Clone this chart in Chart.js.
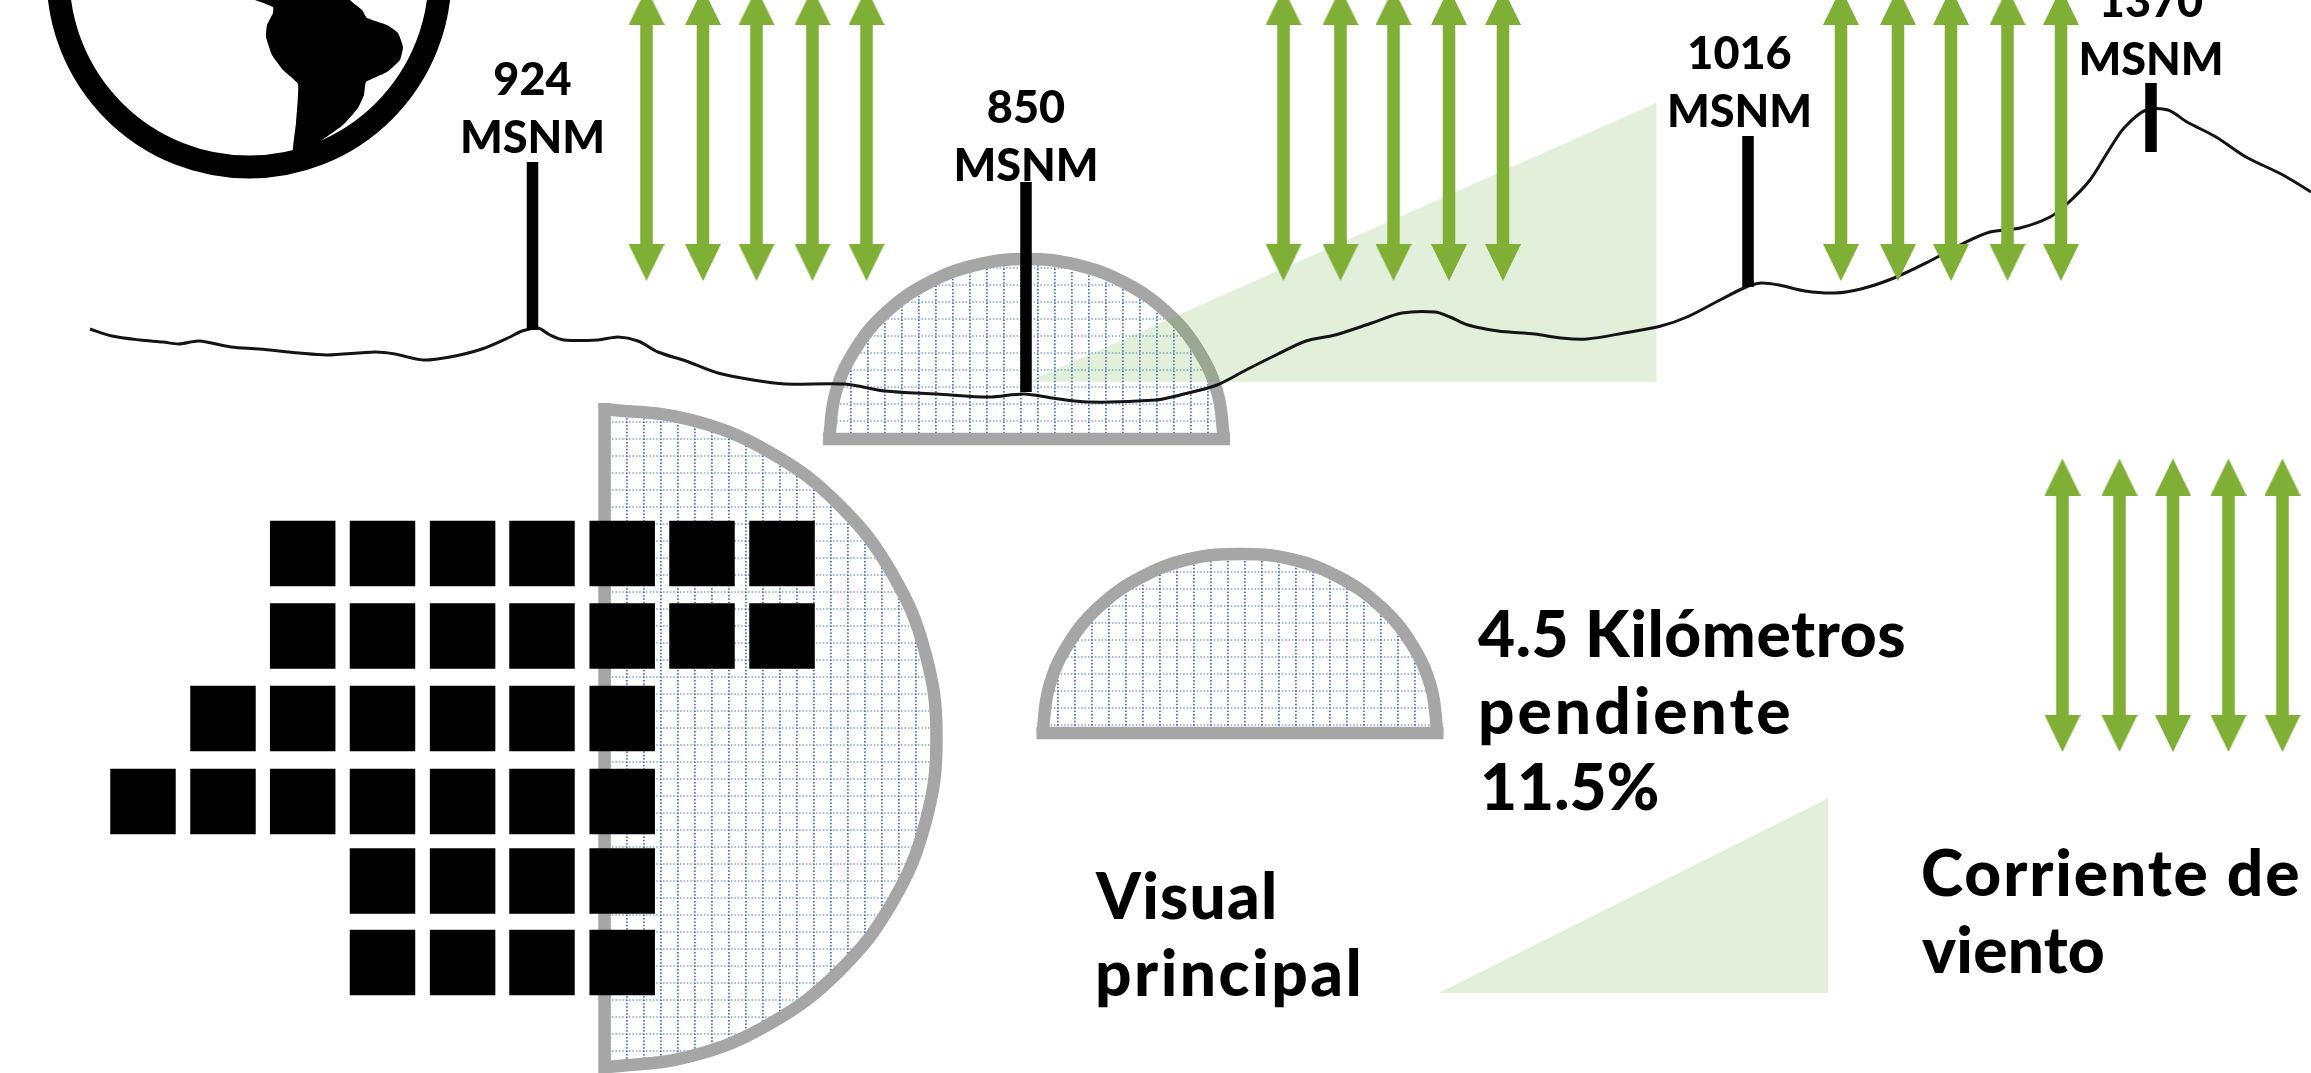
<!DOCTYPE html>
<html>
<head>
<meta charset="utf-8">
<style>
  html, body { margin: 0; padding: 0; background: #fff; }
  canvas { display: block; }
</style>
<script src="https://cdn.jsdelivr.net/npm/chart.js@4/dist/chart.umd.min.js"></script>
</head>
<body>
<canvas id="profile" width="2311" height="1073"></canvas>
<script>
// terrain profile, values (x along the route, y from the top)
let profileX = [90, 112, 140, 163, 179, 199, 231, 259, 299, 327, 375, 395, 423, 450, 482, 510, 522, 538, 550, 564, 598, 618, 638, 658, 686, 718, 753, 785, 845, 885, 937, 989, 1024, 1052, 1088, 1156, 1180, 1217, 1246, 1276, 1306, 1335, 1372, 1402, 1435, 1450, 1468, 1498, 1535, 1561, 1587, 1624, 1661, 1687, 1720, 1746, 1761, 1779, 1805, 1835, 1861, 1894, 1928, 1964, 1990, 2020, 2050, 2068, 2090, 2109, 2124, 2146, 2168, 2187, 2216, 2246, 2283, 2311];
let profileY = [329, 336, 340, 342, 344, 341, 347, 349, 353, 355, 352, 354, 360, 357, 349, 337, 331, 328, 335, 340, 340, 337, 341, 352, 361, 373, 380, 384, 384, 391, 394, 397, 394, 398, 402, 400, 395, 385, 370, 355, 341, 335, 323, 313, 312, 317, 325, 331, 334, 338, 339, 333, 326, 317, 300, 287, 283, 285, 291, 293, 289, 278, 262, 243, 232, 228, 217, 203, 180, 150, 128, 110, 110, 122, 137, 157, 175, 192];

// elevation stems
let elevationLabels = ["924", "850", "1016", "1370"];
let stemX = [532.5, 1026, 1748, 2151];
let stemTop = [162, 182, 136, 83];
let stemBottom = [330, 392, 287, 152];

// wind arrows
let windX = [646.5, 703, 756.5, 812.5, 866.5, 1283.5, 1340.5, 1393.5, 1449, 1503, 1841, 1898, 1951, 2007.5, 2061];
let windTop = -12;
let windBottom = 281;
let legendWindX = [2062.5, 2119.5, 2173, 2228.5, 2282.5];
let legendWindTop = 458.5;
let legendWindBottom = 752;

// main view half disc
let viewX = [604.5, 690.4, 770.5, 839.3, 892, 925.2, 936.5, 925.2, 892, 839.3, 770.5, 690.4, 604.5];
let viewY = [409, 419.7, 452.6, 505, 573.3, 652.7, 738, 823.3, 902.8, 971, 1023.4, 1056.3, 1067.5];

// domes
let domeX = [829, 835.7, 855.5, 886.8, 927.8, 975.4, 1026.5, 1077.6, 1125.3, 1166.2, 1197.5, 1217.3, 1224];
let domeY = [439, 392.4, 349, 311.7, 283.1, 265.1, 259, 265.1, 283.1, 311.7, 349, 392.4, 439];
let legendDomeX = [1042.5, 1049.2, 1069, 1100.3, 1141.3, 1188.9, 1240, 1291.1, 1338.8, 1379.7, 1411, 1430.8, 1437.5];
let legendDomeY = [733, 686.4, 643, 605.7, 577.1, 559.1, 554, 559.1, 577.1, 605.7, 643, 686.4, 733];

// slope triangles
let slopeX = [1028, 1656.5, 1656.5];
let slopeY = [381.7, 102.7, 381.7];
let legendSlopeX = [1439, 1828, 1828];
let legendSlopeY = [993, 798.5, 993];

// black blocks: columns, rows and which columns each row uses
let blockColX = [143, 223, 302.7, 382.5, 462.6, 542, 622.2, 702, 782];
let blockRowY = [553.5, 636, 718.6, 801.6, 881, 962.5];
let blockRowFirst = [2, 2, 1, 0, 3, 3];
let blockRowLast = [8, 8, 6, 6, 6, 6];

// globe ring and continent
let globeX = [249];
let globeY = [-24];
let landX = [255, 273, 273, 267, 266, 272, 283, 298, 296, 293, 305, 318, 343, 358, 364, 366, 387, 400, 403, 398, 387, 367, 362, 350, 350, 255];
let landY = [0, 7, 13, 25, 37, 55, 70, 84, 123, 152, 152, 143, 125, 108, 95, 82, 72, 60, 47, 33, 25, 18, 10, 0, -5, -5];

// notes beside the legend marks
let noteLines = ["4.5 Kilómetros", "pendiente", "11.5%", "Visual", "principal", "Corriente de", "viento"];

const GREEN = "#80AF36";
const GREY = "#A6A6A6";
const SLOPE = "rgba(112, 173, 71, 0.2)";
const FONT = "Lato";

function gridPattern(xo, yo) {
    let tile = document.createElement("canvas");
    tile.width = 17;
    tile.height = 17;
    let c = tile.getContext("2d");
    c.fillStyle = "#4472C4";
    for (let i = 0; i < 5; i++) {
        let d = i * 3.4;
        c.fillRect(Math.round(xo) - 1, d, 1.8, 1.5);
        c.fillRect(d, Math.round(yo) - 0.5, 1.5, 1);
    }
    return document.getElementById("profile").getContext("2d").createPattern(tile, "repeat");
}

// arrow head whose tip sits at the centre of the image, so a data point marks the tip
function arrowHead(up) {
    let w = 36, h = 37;
    let img = document.createElement("canvas");
    img.width = w;
    img.height = h * 2;
    let c = img.getContext("2d");
    c.fillStyle = GREEN;
    c.beginPath();
    c.moveTo(w / 2, h);
    c.lineTo(0, up ? h * 2 : 0);
    c.lineTo(w, up ? h * 2 : 0);
    c.closePath();
    c.fill();
    return img;
}

function pts(xs, ys) {
    return xs.map((x, i) => ({ x: x, y: ys[i] }));
}

function lineSet(xs, ys, color, width) {
    return { data: pts(xs, ys), showLine: true, borderColor: color, borderWidth: width, pointRadius: 0, fill: false, borderCapStyle: "butt" };
}

function shapeSet(xs, ys, fillColor, tension) {
    return { data: pts(xs, ys), showLine: true, borderWidth: 0, borderColor: "transparent", backgroundColor: fillColor, pointRadius: 0, fill: "shape", tension: tension };
}

function outlined(xs, ys, pattern) {
    let s = shapeSet(xs, ys, pattern, 0.4);
    s.borderColor = GREY;
    s.borderWidth = 12.5;
    s.borderCapStyle = "butt";
    return s;
}

let datasets = [];

// painted bottom to top, reversed at the end because Chart.js paints the first dataset last
datasets.push(outlined(viewX, viewY, gridPattern(15, 14.3)));
datasets.push(lineSet([604.5, 604.5], [403, 1073], GREY, 12.5));

datasets.push(outlined(domeX, domeY, gridPattern(1.3, 12.7)));
datasets.push(lineSet([domeX[0] - 6, domeX[12] + 6], [439, 439], GREY, 12.5));
datasets.push(outlined(legendDomeX, legendDomeY, gridPattern(4.3, 11.3)));
datasets.push(lineSet([legendDomeX[0] - 6, legendDomeX[12] + 6], [733, 733], GREY, 12.5));

datasets.push(shapeSet(slopeX, slopeY, SLOPE, 0));
datasets.push(shapeSet(legendSlopeX, legendSlopeY, SLOPE, 0));

let profileSet = lineSet(profileX, profileY, "#141414", 3);
profileSet.tension = 0.3;
datasets.push(profileSet);

stemX.forEach((x, i) => {
    datasets.push(lineSet([x, x], [stemTop[i], stemBottom[i]], "#000", 11.5));
});

let headUp = arrowHead(true);
let headDown = arrowHead(false);
function addArrows(xs, top, bottom) {
    xs.forEach(x => {
        datasets.push(lineSet([x, x], [top + 30, bottom - 30], GREEN, 12.5));
    });
    datasets.push({ data: xs.map(x => ({ x: x, y: top })), pointStyle: headUp, pointRadius: 40 });
    datasets.push({ data: xs.map(x => ({ x: x, y: bottom })), pointStyle: headDown, pointRadius: 40 });
}
addArrows(windX, windTop, windBottom);
addArrows(legendWindX, legendWindTop, legendWindBottom);

let blocks = [];
blockRowY.forEach((y, r) => {
    for (let c = blockRowFirst[r]; c <= blockRowLast[r]; c++) {
        blocks.push({ x: blockColX[c], y: y });
    }
});
datasets.push({ data: blocks, pointStyle: "rect", pointRadius: 46.3, backgroundColor: "#000", borderWidth: 0 });

datasets.push({ data: pts(globeX, globeY), pointStyle: "circle", pointRadius: 191, backgroundColor: "transparent", borderColor: "#000", borderWidth: 23 });
datasets.push(shapeSet(landX, landY, "#000", 0.12));

// text goes on last, through the same scales as the marks
const textPlugin = {
    id: "textPlugin",
    afterDatasetsDraw(chart) {
        const ctx = chart.ctx;
        const px = v => chart.scales.x.getPixelForValue(v);
        const py = v => chart.scales.y.getPixelForValue(v);
        ctx.save();
        ctx.fillStyle = "#000";
        ctx.textBaseline = "alphabetic";

        ctx.font = "900 45px " + FONT;
        ctx.textAlign = "center";
        let labelX = [532.5, 1026, 1739.5, 2151];
        let labelBase = [95, 123, 69, 17];
        elevationLabels.forEach((t, i) => {
            ctx.fillText(t, px(labelX[i]), py(labelBase[i]));
            ctx.fillText("MSNM", px(labelX[i]), py(labelBase[i] + 58));
        });

        ctx.font = "900 64px " + FONT;
        ctx.textAlign = "left";
        // Lato runs narrower than the original face, so spacing is set per line
        let noteX = [1478, 1478, 1480, 1096, 1095, 1921, 1922];
        let noteBase = [657, 733.5, 810, 919, 996, 896, 973];
        let noteSpacing = [0.6, 3, 0, 1.2, 2.5, 1.9, 0.2];
        noteLines.forEach((t, i) => {
            ctx.letterSpacing = noteSpacing[i] + "px";
            ctx.fillText(t, px(noteX[i]), py(noteBase[i]));
        });
        ctx.restore();
    }
};

new Chart(document.getElementById("profile"), {
    type: "scatter",
    data: { datasets: datasets.reverse() },
    options: {
        responsive: false,
        animation: false,
        devicePixelRatio: 1,
        layout: { padding: 0, autoPadding: false },
        plugins: { legend: { display: false }, tooltip: { enabled: false } },
        events: [],
        scales: {
            x: { type: "linear", min: 0, max: 2311, display: false },
            y: { type: "linear", min: 0, max: 1073, reverse: true, display: false }
        }
    },
    plugins: [textPlugin]
});
</script>
</body>
</html>
